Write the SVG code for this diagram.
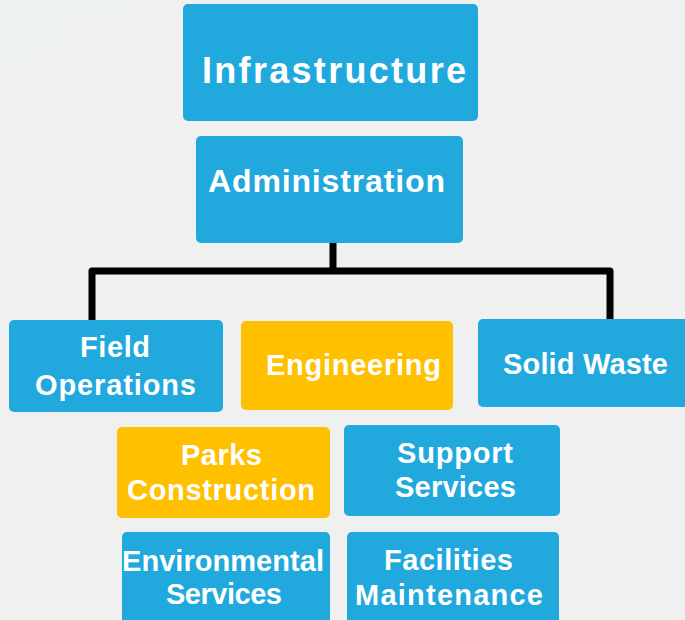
<svg xmlns="http://www.w3.org/2000/svg" width="685" height="620" viewBox="0 0 685 620">
<style>
.bg{fill:#f0f0f0}
.blue{fill:#21a8dd}
.yellow{fill:#ffc000}
.t{font-family:"Liberation Sans",Arial,sans-serif;font-weight:bold;fill:#ffffff;text-anchor:middle}
.s{font-size:29px}
.conn{fill:none;stroke:#000;stroke-width:7;stroke-linejoin:round}
</style>
<rect class="bg" x="0" y="0" width="685" height="620"/>
<path d="M0 0 H140 V10 H100 V25 H60 V50 H25 V70 H5 V85 H0 Z" fill="#eef1f1"/>
<g id="connectors">
<path class="conn" d="M333 243 V271"/>
<path class="conn" d="M92 321 V271 H610 V320"/>
</g>
<g id="infrastructure">
<rect class="blue" x="183" y="4" width="295" height="117" rx="5"/>
<text class="t" x="334" y="83" font-size="36" textLength="264" lengthAdjust="spacing">Infrastructure</text>
</g>
<g id="administration">
<rect class="blue" x="196" y="136" width="267" height="107" rx="5"/>
<text class="t" x="326.5" y="192" font-size="32" textLength="237" lengthAdjust="spacing">Administration</text>
</g>
<g id="field-operations">
<rect class="blue" x="9" y="320" width="214" height="92" rx="5"/>
<text class="t s" x="115" y="357" textLength="70" lengthAdjust="spacing">Field</text>
<text class="t s" x="115.5" y="395" textLength="161" lengthAdjust="spacing">Operations</text>
</g>
<g id="engineering">
<rect class="yellow" x="241" y="321" width="212" height="89" rx="5"/>
<text class="t s" x="353.5" y="375" textLength="175" lengthAdjust="spacing">Engineering</text>
</g>
<g id="solid-waste">
<rect class="blue" x="478" y="319" width="215" height="88" rx="5"/>
<text class="t s" x="585.5" y="374" textLength="165" lengthAdjust="spacing">Solid Waste</text>
</g>
<g id="parks-construction">
<rect class="yellow" x="117" y="427" width="213" height="91" rx="5"/>
<text class="t s" x="221.5" y="465" textLength="81" lengthAdjust="spacing">Parks</text>
<text class="t s" x="221" y="500" textLength="188" lengthAdjust="spacing">Construction</text>
</g>
<g id="support-services">
<rect class="blue" x="344" y="425" width="216" height="91" rx="5"/>
<text class="t s" x="455" y="463" textLength="116" lengthAdjust="spacing">Support</text>
<text class="t s" x="455.5" y="497" textLength="121" lengthAdjust="spacing">Services</text>
</g>
<g id="environmental-services">
<rect class="blue" x="122" y="532" width="208" height="100" rx="5"/>
<text class="t s" x="223" y="571" textLength="202" lengthAdjust="spacing">Environmental</text>
<text class="t s" x="224" y="604" textLength="116" lengthAdjust="spacing">Services</text>
</g>
<g id="facilities-maintenance">
<rect class="blue" x="347" y="532" width="212" height="100" rx="5"/>
<text class="t s" x="448.5" y="570" textLength="129" lengthAdjust="spacing">Facilities</text>
<text class="t s" x="449" y="605" textLength="188" lengthAdjust="spacing">Maintenance</text>
</g>
</svg>
